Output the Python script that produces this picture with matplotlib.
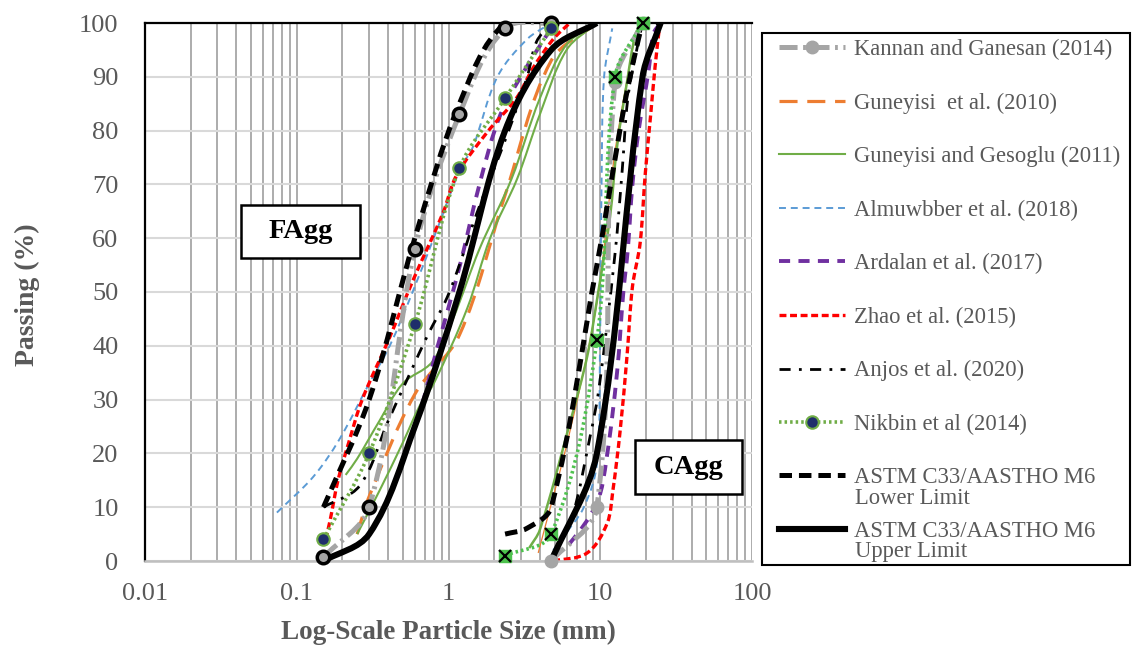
import numpy as np
import matplotlib
matplotlib.use("Agg")
import matplotlib.pyplot as plt
from matplotlib.path import Path
from matplotlib.patches import PathPatch, Rectangle
from matplotlib.lines import Line2D

plt.rcParams['font.family'] = ['Liberation Serif', 'DejaVu Serif']
plt.rcParams['lines.scale_dashes'] = False

# ---- data (particle size [mm], passing [%]) ----
kannan_f_x = [0.15, 0.3, 0.6, 1.18, 2.36, 4.75]
kannan_f_y = [0.7, 10, 58, 83, 99, 100]
kannan_c_x = [4.75, 9.5, 12.5, 19]
kannan_c_y = [0, 10, 89, 100]

guneyisi10_f_x = [0.25, 0.3, 0.6, 1.18, 2.36, 4.75, 9.5]
guneyisi10_f_y = [5, 12, 31, 42, 68, 93, 100]
guneyisi10_c_x = [3.9, 6.3, 9.5, 12.5, 17]
guneyisi10_c_y = [1.5, 24, 48, 76, 98]

gesoglu_fa_x = [0.21, 0.25, 0.35, 0.5, 0.78, 1.07, 1.6, 2.6, 4.0, 6.0, 9.5]
gesoglu_fa_y = [16, 19, 26, 33, 37, 45, 58, 71, 86, 96, 100]
gesoglu_fb_x = [0.25, 0.35, 0.5, 0.65, 0.8, 1.33, 1.88, 2.83, 4.0, 6.0, 9.5]
gesoglu_fb_y = [5, 13, 22, 29, 33, 47, 60, 71, 83, 95, 100]
gesoglu_c_x = [3.4, 4.0, 6.3, 8.2, 9.7, 11.6, 12.9, 15.0, 17.1, 19.0]
gesoglu_c_y = [2.4, 5.8, 25.6, 38, 50, 64, 77, 89, 98, 100]

almuwbber_f_x = [0.074, 0.128, 0.19, 0.3, 0.41, 0.58, 0.85, 1.2, 1.45, 2.1, 3.3, 4.75]
almuwbber_f_y = [9, 15.6, 22.5, 33, 40, 50, 62, 73, 77, 90, 97, 100]
almuwbber_c_x = [4.9, 5.7, 7.8, 9.5, 9.96, 10.2, 10.6, 12.0]
almuwbber_c_y = [2, 4.5, 10, 18, 40, 70, 90, 99]

ardalan_f_x = [0.15, 0.3, 0.6, 0.85, 1.19, 1.6, 2.2, 3.3, 4.75]
ardalan_f_y = [0, 5, 25, 40, 55, 70, 83, 92, 99]
ardalan_c_x = [4.92, 6.3, 9.5, 11.0, 12.9, 14.2, 15.2, 16.3, 17.9, 20.8, 22.4, 25]
ardalan_c_y = [1, 3.3, 10.8, 19, 35, 50, 58, 70, 80, 91, 98, 100]

zhao_f_x = [0.155, 0.166, 0.187, 0.22, 0.27, 0.41, 0.58, 0.92, 1.13, 1.8, 2.8, 3.6, 4.9, 6.3]
zhao_f_y = [4, 7.6, 15, 22, 30, 41.6, 52, 64.7, 71.7, 79.7, 86, 91.6, 97, 100]
zhao_c_x = [4.9, 8.2, 11.1, 12.1, 13.5, 15.0, 16.3, 18.3, 19.8, 21.5, 23.0, 24.5]
zhao_c_y = [0, 1.5, 7, 13, 24, 38, 51, 59, 72, 83, 92, 99]

anjos_f_x = [0.15, 0.26, 0.4, 0.56, 0.73, 0.98, 1.23, 1.54, 2.42, 3.3, 3.8, 4.75]
anjos_f_y = [10, 14, 26, 35, 42, 49, 56.5, 64.7, 79, 90, 96.5, 100]
anjos_c_x = [4.75, 6.5, 8.55, 9.8, 12.5, 13.9, 15.2, 17.5, 19]
anjos_c_y = [0, 8, 23, 32, 57, 72, 86, 95.4, 100]

nikbin_f_x = [0.15, 0.3, 0.6, 1.18, 2.36, 4.75]
nikbin_f_y = [4, 20, 44, 73, 86, 99]
nikbin_c_x = [2.36, 4.75, 9.5, 12.5, 19]
nikbin_c_y = [1, 5, 41, 90, 100]

astm_low_f_x = [0.15, 0.3, 0.6, 1.18, 2.36, 4.75]
astm_low_f_y = [10, 30, 60, 85, 100, 100]
astm_low_c_x = [2.36, 3.3, 4.75, 9.5, 19, 25]
astm_low_c_y = [5, 6.1, 10, 55, 100, 100]
astm_up_f_x = [0.15, 0.3, 0.6, 1.18, 2.36, 4.75, 9.5]
astm_up_f_y = [0, 5, 25, 50, 80, 95, 100]
astm_up_c_x = [4.75, 9.5, 19, 25]
astm_up_c_y = [0, 20, 90, 100]

labels = ['Kannan and Ganesan (2014)', 'Guneyisi  et al. (2010)',
          'Guneyisi and Gesoglu (2011)', 'Almuwbber et al. (2018)',
          'Ardalan et al. (2017)', 'Zhao et al. (2015)', 'Anjos et al. (2020)',
          'Nikbin et al (2014)', 'ASTM C33/AASTHO M6', 'ASTM C33/AASTHO M6']

GRAY = '#A5A5A5'
ORANGE = '#ED7D31'
GREEN = '#70AD47'
BLUE = '#5B9BD5'
PURPLE = '#7030A0'
RED = '#FF0000'
NAVY = '#1F2E6B'
TXT = '#595959'

# pixel size of one decade / one percent, used only to shape the smoothing
SX, SY = 151.75, 5.38


def smooth_path(xs, ys):
    # Excel-like smoothed line: Bezier segments, tangent along neighbour chord,
    # handle length = 1/3 of the segment length (in screen proportions)
    P = np.column_stack([np.log10(xs) * SX, np.array(ys, float) * SY])
    n = len(P)
    tang = []
    for i in range(n):
        a = P[max(i - 1, 0)]
        b = P[min(i + 1, n - 1)]
        d = b - a
        tang.append(d / np.hypot(*d))
    verts = [P[0]]
    codes = [Path.MOVETO]
    for i in range(n - 1):
        p1, p2 = P[i], P[i + 1]
        L = np.hypot(*(p2 - p1)) / 3.0
        verts += [p1 + tang[i] * L, p2 - tang[i + 1] * L, p2]
        codes += [Path.CURVE4] * 3
    verts = np.array(verts)
    verts = np.column_stack([10 ** (verts[:, 0] / SX), verts[:, 1] / SY])
    return Path(verts, codes)


def curve(ax, xs, ys, z, **kw):
    ax.add_patch(PathPatch(smooth_path(xs, ys), fill=False, zorder=z,
                           capstyle='butt', joinstyle='round', **kw))


fig = plt.figure(figsize=(11.34, 6.46), dpi=100)
ax = fig.add_axes([145 / 1134, 1 - 561 / 646, (752 - 145) / 1134, (561 - 23) / 646])
ax.set_xscale('log')
ax.set_xlim(0.01, 100)
ax.set_ylim(0, 100)

# grid
ax.set_xticks([0.01, 0.1, 1, 10, 100])
ax.set_xticklabels(['0.01', '0.1', '1', '10', '100'])
ax.set_xticks([m * 10.0 ** e for e in range(-2, 2) for m in range(2, 10)], minor=True)
ax.set_yticks(range(0, 101, 10))
ax.grid(True, which='both', axis='x', color='#A6A6A6', lw=1.3, zorder=0)
ax.grid(True, which='major', axis='y', color='#D9D9D9', lw=1.5, zorder=0)
ax.tick_params(which='both', length=0)
ax.tick_params(axis='x', pad=16, labelsize=19, labelcolor=TXT)
ax.tick_params(axis='y', pad=19, labelsize=19, labelcolor=TXT)
for s in ['left', 'top']:
    ax.spines[s].set_color('black')
    ax.spines[s].set_linewidth(1.6)
ax.spines['right'].set_visible(False)
ax.spines['bottom'].set_color('#BFBFBF')
ax.spines['bottom'].set_linewidth(1.8)

# curves
dash_blue = (0, (5, 3.5))
curve(ax, almuwbber_f_x, almuwbber_f_y, 2, color=BLUE, lw=1.4, ls=dash_blue)
curve(ax, almuwbber_c_x, almuwbber_c_y, 2, color=BLUE, lw=1.4, ls=dash_blue)
dash_or = (0, (13, 7))
curve(ax, guneyisi10_f_x, guneyisi10_f_y, 2.1, color=ORANGE, lw=2.3, ls=dash_or)
curve(ax, guneyisi10_c_x, guneyisi10_c_y, 2.1, color=ORANGE, lw=0.9)
curve(ax, gesoglu_fa_x, gesoglu_fa_y, 2.2, color=GREEN, lw=1.5)
curve(ax, gesoglu_fb_x, gesoglu_fb_y, 2.2, color=GREEN, lw=1.5)
curve(ax, gesoglu_c_x, gesoglu_c_y, 2.2, color=GREEN, lw=1.8)
dash_pu = (0, (8, 6))
curve(ax, ardalan_f_x, ardalan_f_y, 2.3, color=PURPLE, lw=2.8, ls=dash_pu)
curve(ax, ardalan_c_x, ardalan_c_y, 2.3, color=PURPLE, lw=2.8, ls=dash_pu)
dash_red = (0, (5, 2.6))
curve(ax, zhao_f_x, zhao_f_y, 2.4, color=RED, lw=2.4, ls=dash_red)
curve(ax, zhao_c_x, zhao_c_y, 2.4, color=RED, lw=2.4, ls=dash_red)
dash_dot = (0, (8, 6, 2, 6))
curve(ax, anjos_f_x, anjos_f_y, 2.5, color='black', lw=2.0, ls=dash_dot)
curve(ax, anjos_c_x, anjos_c_y, 2.5, color='black', lw=2.0, ls=dash_dot)
dash_gray = (0, (13, 4, 2, 4))
curve(ax, kannan_f_x, kannan_f_y, 2.6, color=GRAY, lw=3.6, ls=dash_gray)
curve(ax, kannan_c_x, kannan_c_y, 2.6, color=GRAY, lw=3.6, ls=dash_gray)
dots = (0, (1.8, 2.2))
curve(ax, nikbin_f_x, nikbin_f_y, 2.7, color=GREEN, lw=2.6, ls=dots)
curve(ax, nikbin_c_x, nikbin_c_y, 2.7, color='#4EC24E', lw=2.6, ls=dots)
dash_k = (0, (9, 5))
curve(ax, astm_low_f_x, astm_low_f_y, 3, color='black', lw=3.6, ls=dash_k)
curve(ax, astm_low_c_x, astm_low_c_y, 3, color='black', lw=3.6, ls=dash_k)
curve(ax, astm_up_f_x, astm_up_f_y, 3.1, color='black', lw=4.4)
curve(ax, astm_up_c_x, astm_up_c_y, 3.1, color='black', lw=4.4)

# markers
ax.plot(kannan_f_x, kannan_f_y, ls='none', marker='o', ms=9, mfc=GRAY, mec='black',
        mew=2.5, zorder=4, clip_on=False)
ax.plot(kannan_c_x, kannan_c_y, ls='none', marker='o', ms=9, mfc=GRAY, mec=GRAY,
        zorder=4, clip_on=False)
ax.plot(nikbin_f_x, nikbin_f_y, ls='none', marker='o', ms=9, mfc=NAVY, mec=GREEN,
        mew=1.5, zorder=5, clip_on=False)
ax.plot(nikbin_c_x, nikbin_c_y, ls='none', marker='s', ms=9, mfc='#4EC24E', mec='#4EC24E',
        zorder=5, clip_on=False)
ax.plot(nikbin_c_x, nikbin_c_y, ls='none', marker='x', ms=8, mec='black', mew=1.6,
        zorder=5.1, clip_on=False)

# region labels
for (x0, y0, x1, y1, t) in [(241, 205, 360, 258, 'FAgg'), (635, 440, 742, 494, 'CAgg')]:
    fig.patches.append(Rectangle((x0 / 1134, 1 - y1 / 646), (x1 - x0) / 1134, (y1 - y0) / 646,
                                 transform=fig.transFigure, fill=True, fc='white',
                                 ec='black', lw=1.8, zorder=6))
    fig.text((x0 + x1) / 2 / 1134, 1 - (y0 + y1) / 2 / 646, t, ha='center', va='center',
             fontsize=20.5, fontweight='bold', color='black', zorder=7)

fig.text(27 / 1134, 1 - 295 / 646, 'Passing (%)', rotation=90, ha='center', va='center',
         fontsize=20, fontweight='bold', color=TXT)
fig.text(448 / 1134, 1 - 632 / 646, 'Log-Scale Particle Size (mm)', ha='center', va='center',
         fontsize=19.5, fontweight='bold', color=TXT)

# legend
handles = [
    Line2D([], [], color=GRAY, lw=3.6, ls=dash_gray, marker='o', ms=9, mfc=GRAY, mec=GRAY),
    Line2D([], [], color=ORANGE, lw=2.3, ls=dash_or),
    Line2D([], [], color=GREEN, lw=1.5),
    Line2D([], [], color=BLUE, lw=1.4, ls=dash_blue),
    Line2D([], [], color=PURPLE, lw=2.8, ls=dash_pu),
    Line2D([], [], color=RED, lw=2.4, ls=dash_red),
    Line2D([], [], color='black', lw=2.0, ls=dash_dot),
    Line2D([], [], color=GREEN, lw=2.6, ls=dots, marker='o', ms=9, mfc=NAVY, mec=GREEN, mew=1.5),
    Line2D([], [], color='black', lw=3.6, ls=dash_k),
    Line2D([], [], color='black', lw=4.4),
]
fig.patches.append(Rectangle((762 / 1134, 1 - 565 / 646), (1130 - 762) / 1134, (565 - 33) / 646,
                             transform=fig.transFigure, fill=False, ec='black', lw=1.5))
leg = fig.legend(handles, labels, loc='upper left', bbox_to_anchor=(779 / 1134, 1 - 39 / 646),
                 frameon=False, fontsize=16.3, labelcolor=TXT, handlelength=2.9,
                 handletextpad=0.4, labelspacing=1.43, borderpad=0, borderaxespad=0,
                 numpoints=1)
fig.text(855 / 1134, 1 - 499 / 646, 'Lower Limit', ha='left', va='center', fontsize=16.3, color=TXT)
fig.text(855 / 1134, 1 - 552 / 646, 'Upper Limit', ha='left', va='center', fontsize=16.3, color=TXT)

fig.savefig('out.png', dpi=100)
